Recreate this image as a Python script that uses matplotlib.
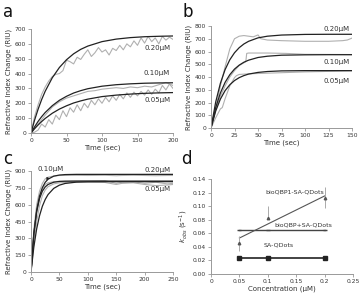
import matplotlib
matplotlib.use('Agg')
import matplotlib.pyplot as plt

W, H = 359, 294

# ---- panel a ----
a_t = [0, 5, 10, 15, 20, 30, 40, 50, 60, 70, 80, 100, 120, 140, 160, 180, 200]
a_fit20 = [0, 86, 160, 225, 281, 372, 441, 493, 533, 563, 585, 615, 632, 642, 648, 651, 653]
a_fit10 = [0, 41, 78, 110, 138, 184, 220, 247, 269, 285, 298, 315, 325, 331, 335, 337, 338]
a_fit05 = [0, 29, 54, 77, 98, 133, 161, 183, 202, 216, 228, 245, 255, 262, 267, 270, 272]
a_dt = list(range(0, 205, 5))
a_dat20 = [0, 110, 190, 260, 310, 350, 380, 395, 400, 420, 490, 480, 465, 510, 495, 530,
           560, 515, 540, 575, 545, 560, 525, 570, 555, 590, 560, 600, 580, 620, 590, 640,
           605, 650, 615, 640, 600, 650, 625, 645, 630]
a_dt10 = list(range(0, 210, 10))
a_dat10 = [0, 60, 120, 175, 210, 235, 250, 265, 280, 285, 295, 300, 305, 300, 310, 305,
           315, 310, 325, 340, 320]
a_dat05 = [0, 5, 20, 60, 40, 90, 60, 120, 90, 150, 110, 170, 140, 190, 150, 200, 170, 220,
           190, 230, 200, 240, 210, 250, 220, 260, 230, 270, 240, 275, 250, 280, 255, 290,
           260, 295, 270, 320, 290, 330, 300]

# ---- panel b ----
b_t = [0, 5, 10, 15, 20, 25, 30, 35, 40, 50, 60, 75, 100, 125, 150]
b_fit20 = [0, 204, 351, 458, 535, 590, 630, 659, 680, 707, 720, 729, 734, 735, 735]
b_fit10 = [0, 160, 275, 358, 418, 462, 493, 516, 532, 553, 563, 571, 574, 575, 575]
b_fit05 = [0, 133, 227, 293, 339, 372, 395, 411, 423, 436, 443, 448, 450, 450, 450]
b_dt20 = [0, 5, 10, 15, 20, 25, 30, 35, 40, 45, 50, 53, 60, 75, 100, 125, 140, 145, 150]
b_dat20 = [0, 150, 330, 480, 620, 700, 720, 725, 720, 715, 730, 700, 690, 685, 680, 680, 685, 690, 705]
b_dt10 = [0, 5, 10, 15, 20, 25, 30, 37, 38, 40, 60, 80, 100, 150]
b_dat10 = [0, 140, 250, 330, 400, 450, 490, 520, 585, 588, 588, 585, 578, 576]
b_dt05 = [0, 5, 10, 12, 15, 20, 25, 27, 30, 40, 60, 100, 150]
b_dat05 = [0, 80, 150, 160, 230, 330, 395, 410, 420, 425, 430, 440, 448]

# ---- panel c ----
c_t = [0, 5, 10, 15, 20, 25, 30, 40, 50, 60, 80, 100, 150, 200, 250]
c_fit20 = [0, 342, 550, 676, 752, 799, 827, 854, 864, 868, 870, 870, 870, 870, 870]
c_fit10 = [0, 343, 540, 654, 720, 758, 780, 800, 807, 809, 810, 810, 810, 810, 810]
c_fit05 = [0, 223, 385, 501, 586, 646, 690, 745, 774, 789, 801, 804, 805, 805, 805]
c_dt = [0, 5, 10, 15, 20, 25, 30, 40, 50, 70, 100, 130, 150, 160, 180, 200, 220, 240, 250]
c_dat20 = [0, 380, 600, 720, 790, 830, 845, 855, 860, 862, 860, 862, 858, 860, 862, 860, 858, 860, 860]
c_dat10 = [0, 300, 520, 660, 740, 780, 795, 805, 808, 810, 812, 815, 790, 800, 805, 790, 800, 785, 790]
c_dat05 = [0, 250, 450, 590, 680, 730, 760, 785, 795, 800, 800, 798, 780, 790, 795, 780, 770, 775, 780]

# ---- panel d ----
d_conc = [0.05, 0.1, 0.2]
d_sa = [0.023, 0.023, 0.023]
d_bioqbp = [0.065, 0.065, 0.065]
d_bioqbp1 = [0.046, 0.082, 0.112]
d_err_lo = [0.012, 0.0, 0.015]
d_err_hi = [0.010, 0.018, 0.016]
d_fit = [0.053, 0.115]
d_fitx = [0.05, 0.2]

fig = plt.figure(figsize=(W / 100, H / 100), dpi=100)


def px_axes(x0, y0, x1, y1):
    return fig.add_axes([x0 / W, 1 - y1 / H, (x1 - x0) / W, (y1 - y0) / H])


def style(ax):
    for s in ['top', 'right']:
        ax.spines[s].set_visible(False)
    for s in ['left', 'bottom']:
        ax.spines[s].set_color('#999999')
        ax.spines[s].set_linewidth(0.7)
    ax.tick_params(labelsize=4.3, length=2, width=0.6, color='#999999',
                   labelcolor='#333333', pad=1.5)


dark = '#222222'
gray = '#b0b0b0'
lab = dict(fontsize=5, color='#333333', ha='right')

# a
ax = px_axes(31, 29, 173, 133)
style(ax)
ax.plot(a_dt, a_dat20, color=gray, lw=0.8)
ax.plot(a_dt10, a_dat10, color=gray, lw=0.8)
ax.plot(a_dt, a_dat05, color=gray, lw=0.8)
ax.plot(a_t, a_fit20, color=dark, lw=0.9)
ax.plot(a_t, a_fit10, color=dark, lw=0.9)
ax.plot(a_t, a_fit05, color=dark, lw=0.9)
ax.set_xlim(0, 200)
ax.set_ylim(0, 700)
ax.set_xticks([0, 50, 100, 150, 200])
ax.set_yticks(range(0, 800, 100))
ax.text(196, 560, '0.20\u03bcM', **lab)
ax.text(196, 392, '0.10\u03bcM', **lab)
ax.text(196, 210, '0.05\u03bcM', **lab)
ax.set_xlabel('Time (sec)', fontsize=5, color='#333333', labelpad=1)
ax.set_ylabel('Refractive Index Change (RIU)', fontsize=5, color='#333333', labelpad=2)

# b
ax = px_axes(211, 26, 352, 128)
style(ax)
ax.plot(b_dt20, b_dat20, color=gray, lw=0.8)
ax.plot(b_dt10, b_dat10, color=gray, lw=0.8)
ax.plot(b_dt05, b_dat05, color=gray, lw=0.8)
ax.plot(b_t, b_fit20, color=dark, lw=0.9)
ax.plot(b_t, b_fit10, color=dark, lw=0.9)
ax.plot(b_t, b_fit05, color=dark, lw=0.9)
ax.set_xlim(0, 150)
ax.set_ylim(0, 800)
ax.set_xticks([0, 25, 50, 75, 100, 125, 150])
ax.set_yticks(range(0, 900, 100))
ax.text(148, 760, '0.20\u03bcM', **lab)
ax.text(148, 505, '0.10\u03bcM', **lab)
ax.text(148, 350, '0.05\u03bcM', **lab)
ax.set_xlabel('Time (sec)', fontsize=5, color='#333333', labelpad=1)
ax.set_ylabel('Refractive Index Change (RIU)', fontsize=5, color='#333333', labelpad=2)

# c
ax = px_axes(31, 171, 173, 272)
style(ax)
ax.plot(c_dt, c_dat20, color=gray, lw=0.8)
ax.plot(c_dt, c_dat10, color=gray, lw=0.8)
ax.plot(c_dt, c_dat05, color=gray, lw=0.8)
ax.plot(c_t, c_fit20, color=dark, lw=0.9)
ax.plot(c_t, c_fit10, color=dark, lw=0.9)
ax.plot(c_t, c_fit05, color=dark, lw=0.9)
ax.set_xlim(0, 250)
ax.set_ylim(0, 900)
ax.set_xticks([0, 50, 100, 150, 200, 250])
ax.set_yticks(range(0, 1050, 150))
ax.text(245, 895, '0.20\u03bcM', **lab)
ax.text(245, 720, '0.05\u03bcM', **lab)
ax.annotate('0.10\u03bcM', xy=(26, 790), xytext=(12, 900), fontsize=5, color='#333333',
            annotation_clip=False,
            arrowprops=dict(arrowstyle='-|>', color=dark, lw=0.5, mutation_scale=4))
ax.set_xlabel('Time (sec)', fontsize=5, color='#333333', labelpad=1)
ax.set_ylabel('Refractive Index Change (RIU)', fontsize=5, color='#333333', labelpad=2)

# d
ax = px_axes(211, 179, 353, 274)
style(ax)
ax.plot(d_conc, d_sa, color=dark, lw=1.2, marker='s', ms=2.2)
ax.plot(d_conc, d_bioqbp, color='#444444', lw=1.0, marker='_', ms=3)
ax.plot(d_fitx, d_fit, color='#555555', lw=0.8)
ax.errorbar(d_conc, d_bioqbp1, yerr=[d_err_lo, d_err_hi], fmt='^', ms=1.8,
            color='#555555', ecolor='#aaaaaa', elinewidth=0.7, capsize=0)
ax.set_xlim(0, 0.25)
ax.set_ylim(0, 0.14)
ax.set_xticks([0, 0.05, 0.1, 0.15, 0.2, 0.25])
ax.set_xticklabels(['0', '0.05', '0.1', '0.15', '0.2', '0.25'])
ax.set_yticks([0, 0.02, 0.04, 0.06, 0.08, 0.1, 0.12, 0.14])
ax.set_yticklabels(['0.00', '0.02', '0.04', '0.06', '0.08', '0.10', '0.12', '0.14'])
ax.text(0.148, 0.119, 'bioQBP1-SA-QDots', fontsize=4.5, color='#333333', ha='center')
ax.text(0.163, 0.0695, 'bioQBP+SA-QDots', fontsize=4.5, color='#333333', ha='center')
ax.text(0.12, 0.041, 'SA-QDots', fontsize=4.5, color='#333333', ha='center')
ax.set_xlabel('Concentration (\u03bcM)', fontsize=5, color='#333333', labelpad=1)
ax.set_ylabel('$k_{obs}$ (s$^{-1}$)', fontsize=5, color='#333333', labelpad=2)

for s, x, y in [('a', 3, 3), ('b', 182, 3), ('c', 3, 150), ('d', 181, 150)]:
    fig.text(x / W, 1 - y / H, s, fontsize=12, va='top', ha='left', color='#111111')

fig.savefig('out.png', dpi=100)
